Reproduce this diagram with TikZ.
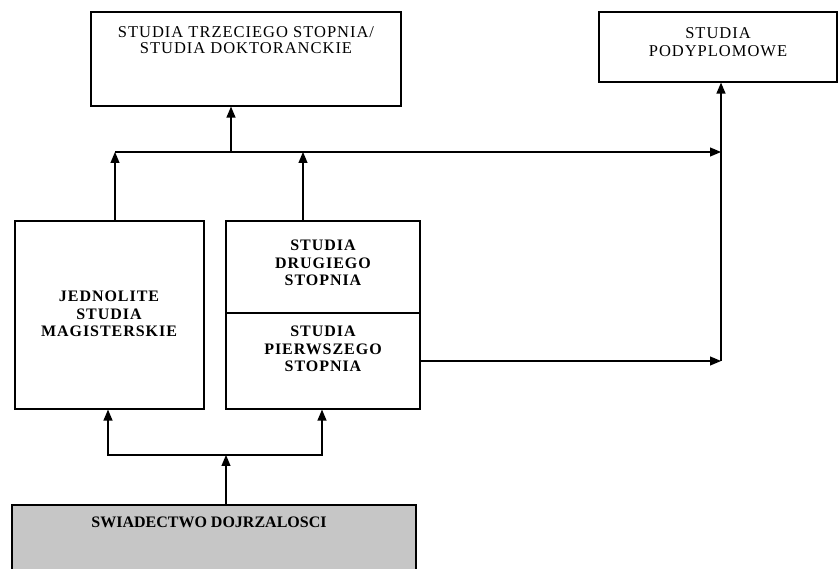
\documentclass[tikz,border=0pt]{standalone}
\usepackage{fontspec}
\setmainfont{Liberation Serif}
\newfontfamily\spacedfont[LetterSpace=6]{Liberation Serif}
\usetikzlibrary{positioning,arrows.meta}
\tikzset{box node/.style={rectangle,draw,line width=1.2pt,inner sep=0pt},
  txt node/.style={align=center,inner sep=0pt,font=\spacedfont\bfseries\fontsize{16}{17.5}\selectfont},
  arr/.style={line width=1.2pt,-{Triangle[length=11pt,width=9pt]}},}

\begin{document}
\begin{tikzpicture}[x=1pt,y=-1pt]
          \useasboundingbox (0,0) rectangle (839,569);
          \clip (0,0) rectangle (839,569);
          % boxes
          \node[box node, minimum width=310, minimum height=94] (doct) at (246,59) {};
          \node[box node, minimum width=238, minimum height=70] (podypl) at (718,47) {};
          \node[box node, minimum width=189, minimum height=188] (jsm) at (109.5,315) {};
          \node[box node, minimum width=194, minimum height=92] (sds) at (323,267) {};
          \node[box node, minimum width=194, minimum height=96] (sps) at (323,361) {};
          \node[box node, fill=gray!45, minimum width=404, minimum height=80] (matura) at (214,545) {};

          % texts
          \node[txt node, font=\spacedfont\fontsize{16.5}{15.5}\selectfont] (doctT) at (246,40) {STUDIA TRZECIEGO STOPNIA/\\STUDIA DOKTORANCKIE};
          \node[txt node, font=\spacedfont\fontsize{16.5}{18}\selectfont] (podyplT) at (718,42) {STUDIA\\PODYPLOMOWE};
          \node[txt node] (jsmT) at (109,314) {JEDNOLITE\\STUDIA\\MAGISTERSKIE};
          \node[txt node] (sdsT) at (323,263) {STUDIA\\DRUGIEGO\\STOPNIA};
          \node[txt node] (spsT) at (323,349) {STUDIA\\PIERWSZEGO\\STOPNIA};
          \node[txt node, font=\bfseries\fontsize{16}{17.5}\selectfont] (maturaT) at (209,522) {SWIADECTWO DOJRZALOSCI};

          % connectors
          \coordinate (busW) at (115,152);
          \coordinate (busE) at (721,152);
          \coordinate (upD) at (231,152);
          \coordinate (upS) at (303,152);
          \coordinate (riseP) at (721,361);
          \coordinate (fork) at (226,455);
          \coordinate (forkW) at (108,455);
          \coordinate (forkE) at (322,455);

          \draw[arr] (busW |- jsm.north) -- (busW);
          \draw[arr] (upS |- sds.north) -- (upS);
          \draw[arr] (busW) -- (busE);
          \draw[arr] (upD) -- (upD |- doct.south);
          \draw[arr] (sps.east) -- (riseP);
          \draw[arr] (riseP) -- (riseP |- podypl.south);
          \draw[arr] (fork |- matura.north) -- (fork);
          \draw[arr] (fork) -- (forkW) -- (forkW |- jsm.south);
          \draw[arr] (fork) -- (forkE) -- (forkE |- sps.south);
\end{tikzpicture}
\end{document}
